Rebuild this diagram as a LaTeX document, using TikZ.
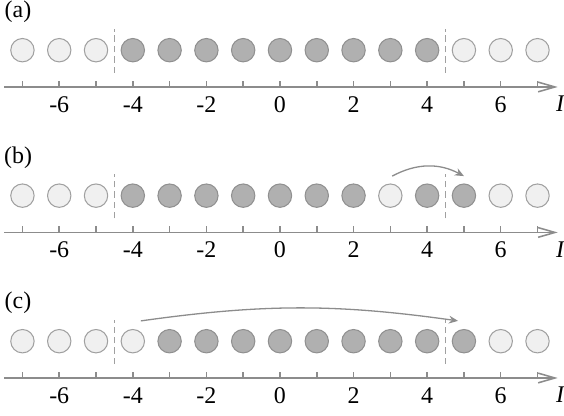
\documentclass[tikz,border=0pt]{standalone}
\usepackage{fontspec}
\setmainfont{Liberation Serif}
\usetikzlibrary{arrows.meta}

\definecolor{freefill}{HTML}{F0F0F0}
\definecolor{freeedge}{HTML}{A0A0A0}
\definecolor{fullfill}{HTML}{B0B0B0}
\definecolor{fulledge}{HTML}{909090}
\definecolor{axisgray}{HTML}{8C8C8C}

\begin{document}
\begin{tikzpicture}[
  font=\fontsize{18.5}{22}\selectfont,
  site/.style={circle, minimum size=0.636cm, inner sep=0pt, line width=0.8pt},
  free/.style={site, draw=freeedge, fill=freefill},
  full/.style={site, draw=fulledge, fill=fullfill},
  axisline/.style={draw=axisgray, line width=1.2pt},
  wall/.style={draw=freeedge, line width=0.9pt, dash pattern=on 5pt off 3pt},
  hop/.style={draw=axisgray, line width=1pt, -{Stealth[length=7pt, width=6pt]}}
]
\useasboundingbox (-7.61,-8.94) rectangle (7.72,2.364);

% Axes, ticks and labels for the three rows
\foreach \y/\r in {0/a, -3.954/b, -7.91/c} {
  \node (lab-\r) at (-7.12,\y+2.04) {(\r)};
  \coordinate (start-\r) at (-7.5,\y);
  \coordinate (end-\r) at (7.55,\y);
  \draw[axisline, -{Straight Barb[length=13pt, width=7.5pt]}] (start-\r) -- (end-\r);
  \foreach \i in {-7,...,7}
    \draw[axisline] (\i,\y) -- (\i,\y+0.17);
  \foreach \i in {-6,-4,-2,0,2,4,6}
    \node (num-\r\i) at (\i,\y-0.47) {\i};
  \node (I-\r) at (7.63,\y-0.46) {\textit{I}};
  % walls
  \draw[wall] (-4.5,\y+0.38) -- (-4.5,\y+1.58);
  \draw[wall] (4.5,\y+0.38) -- (4.5,\y+1.58);
}

% Row (a)
\foreach \i in {-7,-6,-5,5,6,7} \node[free] (a\i) at (\i,1) {};
\foreach \i in {-4,...,4} \node[full] (a\i) at (\i,1) {};

% Row (b)
\foreach \i in {-7,-6,-5,3,6,7} \node[free] (b\i) at (\i,-2.954) {};
\foreach \i in {-4,...,2,4,5} \node[full] (b\i) at (\i,-2.954) {};
\draw[hop] ([xshift=0.05cm,yshift=0.2cm]b3.north) to[bend left=28] ([yshift=0.2cm]b5.north);

% Row (c)
\foreach \i in {-7,-6,-5,-4,6,7} \node[free] (c\i) at (\i,-6.91) {};
\foreach \i in {-3,...,5} \node[full] (c\i) at (\i,-6.91) {};
\draw[hop] ([xshift=0.22cm,yshift=0.22cm]c-4.north) to[bend left=8] ([xshift=-0.16cm,yshift=0.22cm]c5.north);

\end{tikzpicture}
\end{document}
